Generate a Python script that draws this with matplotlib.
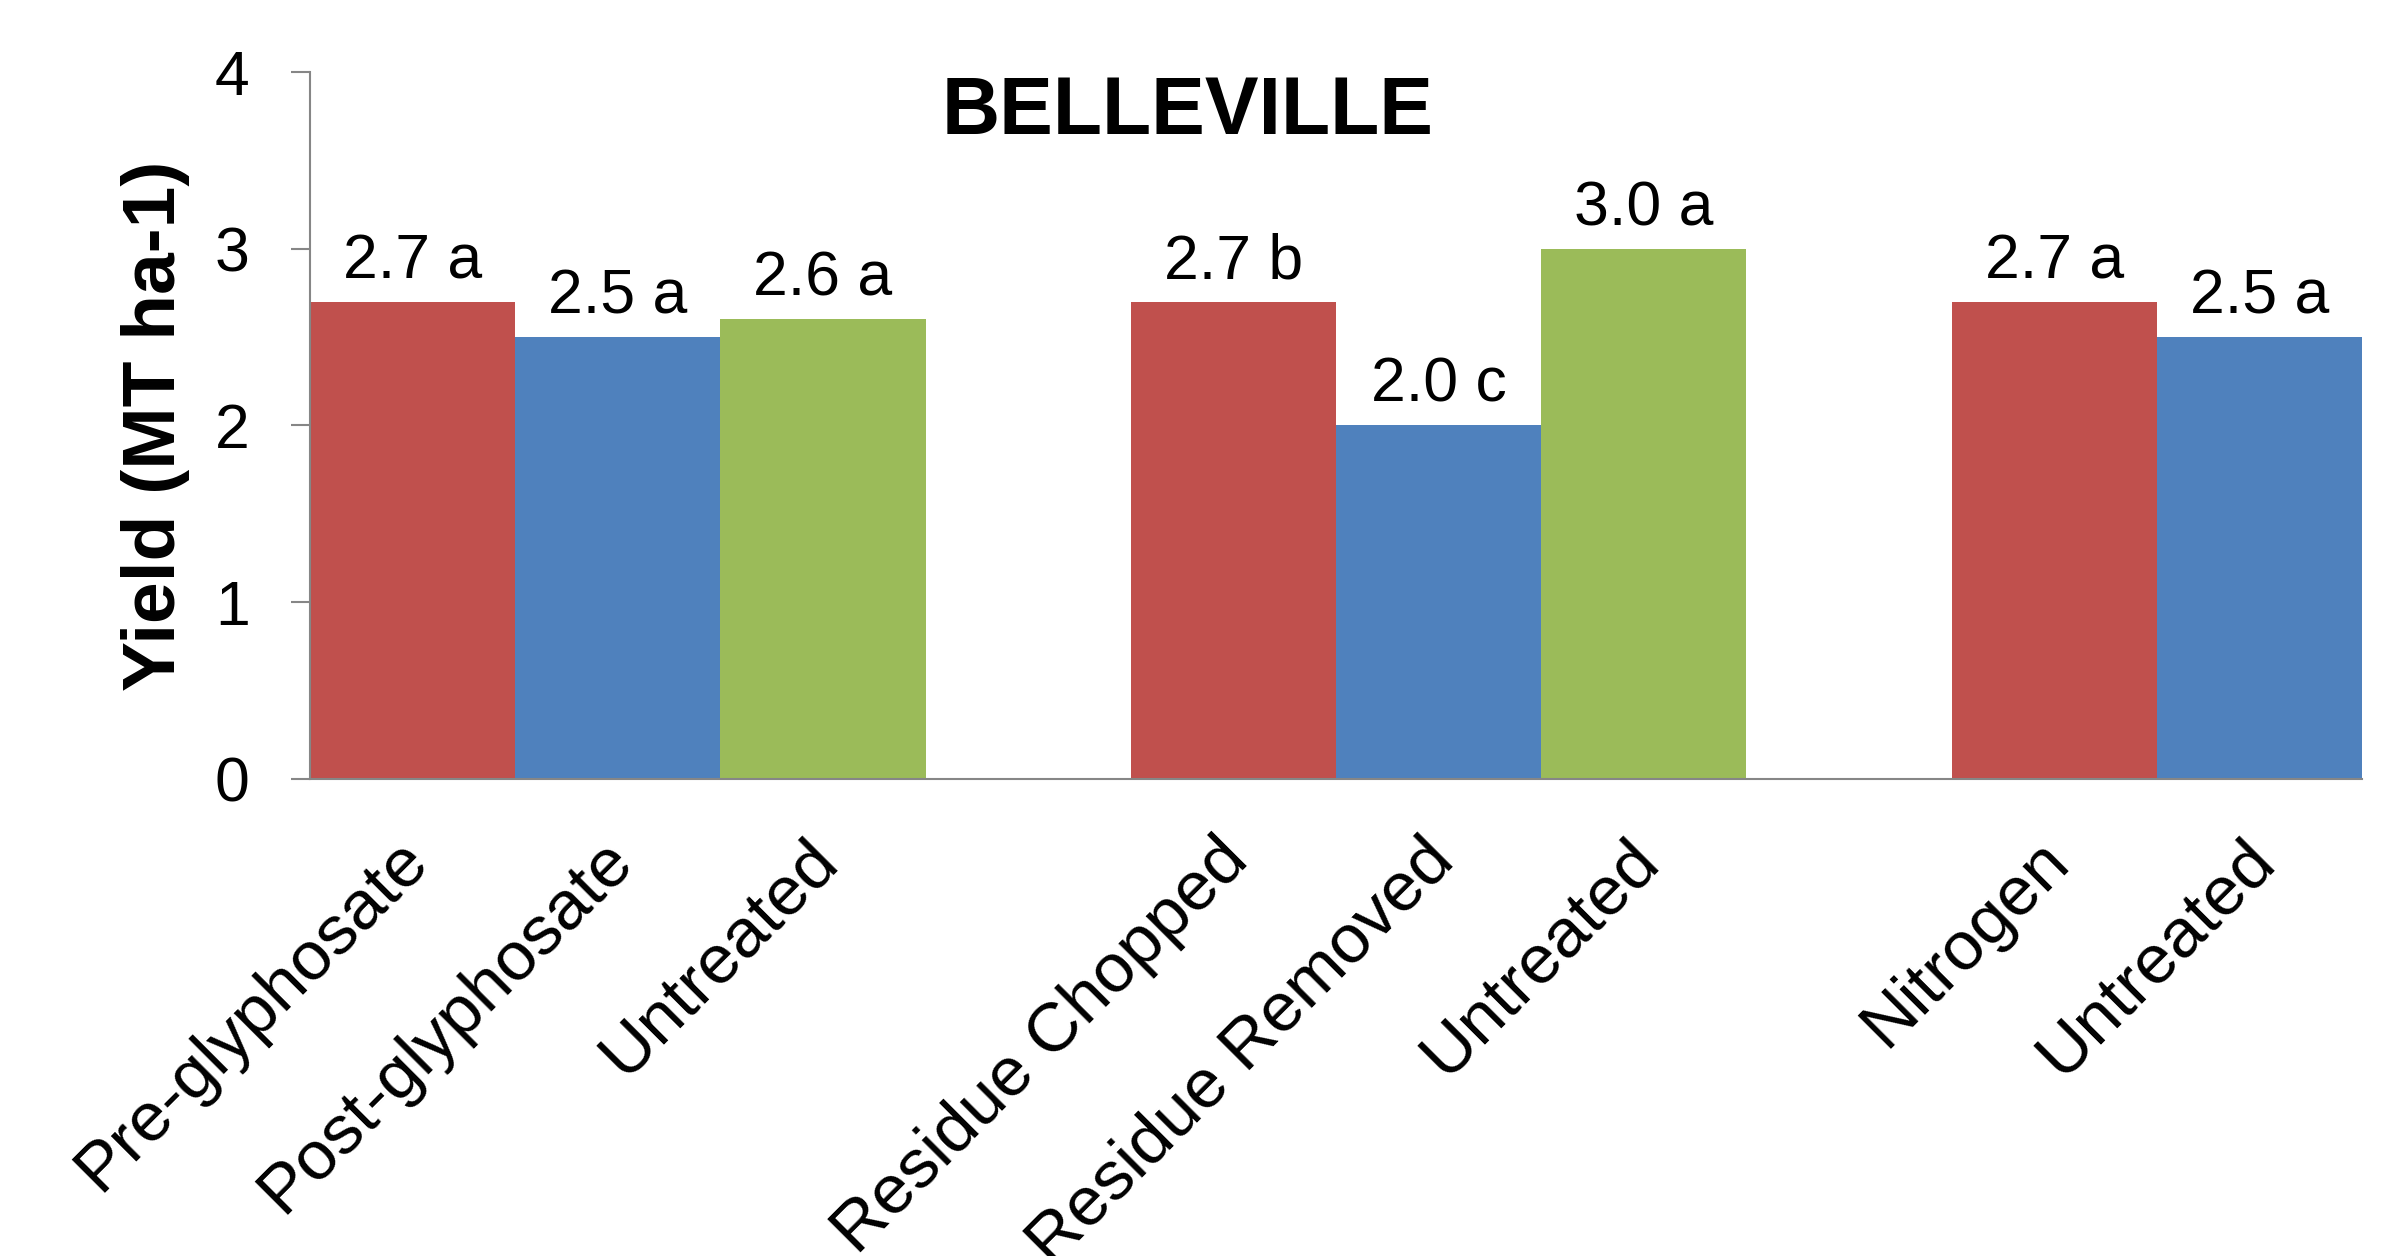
import matplotlib
matplotlib.use('Agg')
import matplotlib.pyplot as plt

plt.rcParams['font.family'] = ['Liberation Sans', 'DejaVu Sans']

# treatments, grouped by trial
group_labels = [
    ['Pre-glyphosate', 'Post-glyphosate', 'Untreated'],
    ['Residue Chopped', 'Residue Removed', 'Untreated'],
    ['Nitrogen', 'Untreated'],
]
group_yields = [
    [2.7, 2.5, 2.6],
    [2.7, 2.0, 3.0],
    [2.7, 2.5],
]
group_letters = [
    ['a', 'a', 'a'],
    ['b', 'c', 'a'],
    ['a', 'a'],
]

palette = ['#C0504D', '#4F81BD', '#9BBB59']

fig = plt.figure(figsize=(23.94, 12.56), dpi=100)
ax = fig.add_axes([0.1295, 0.3798, 0.8571, 0.5629])

xs = []
names = []
x = 0
for labs, ys, lets in zip(group_labels, group_yields, group_letters):
    for i in range(len(labs)):
        ax.bar(x, ys[i], width=1.0, color=palette[i], linewidth=0)
        ax.annotate('%.1f %s' % (ys[i], lets[i]), (x, ys[i]),
                    xytext=(0, 17), textcoords='offset points',
                    ha='center', va='baseline', fontsize=45)
        xs.append(x)
        names.append(labs[i])
        x += 1
    x += 1  # empty slot between groups

ax.set_xlim(-0.5, x - 1.5)
ax.set_ylim(0, 4)
ax.set_yticks([0, 1, 2, 3, 4])
ax.set_xticks(xs)
ax.set_xticklabels([])
# rotated category labels, placed like Excel does
for xi, name in zip(xs, names):
    ax.annotate(name, (xi, 0), xytext=(-13, -35), textcoords='offset points',
                rotation=45, ha='right', va='top', rotation_mode='anchor',
                fontsize=50, annotation_clip=False)

for s in ['top', 'right']:
    ax.spines[s].set_visible(False)
for s in ['left', 'bottom']:
    ax.spines[s].set_color('#868686')
    ax.spines[s].set_linewidth(1.5)

ax.tick_params(axis='y', length=13.5, width=1.5, color='#868686',
               direction='out', pad=30, labelsize=45)
ax.tick_params(axis='x', length=0)

ax.set_ylabel('Yield (MT ha-1)', fontsize=54, fontweight='bold', labelpad=18)
fig.text(0.496, 0.893, 'BELLEVILLE', fontsize=58, fontweight='bold',
         ha='center', va='baseline')

fig.savefig('out.png', dpi=100, facecolor='white')
